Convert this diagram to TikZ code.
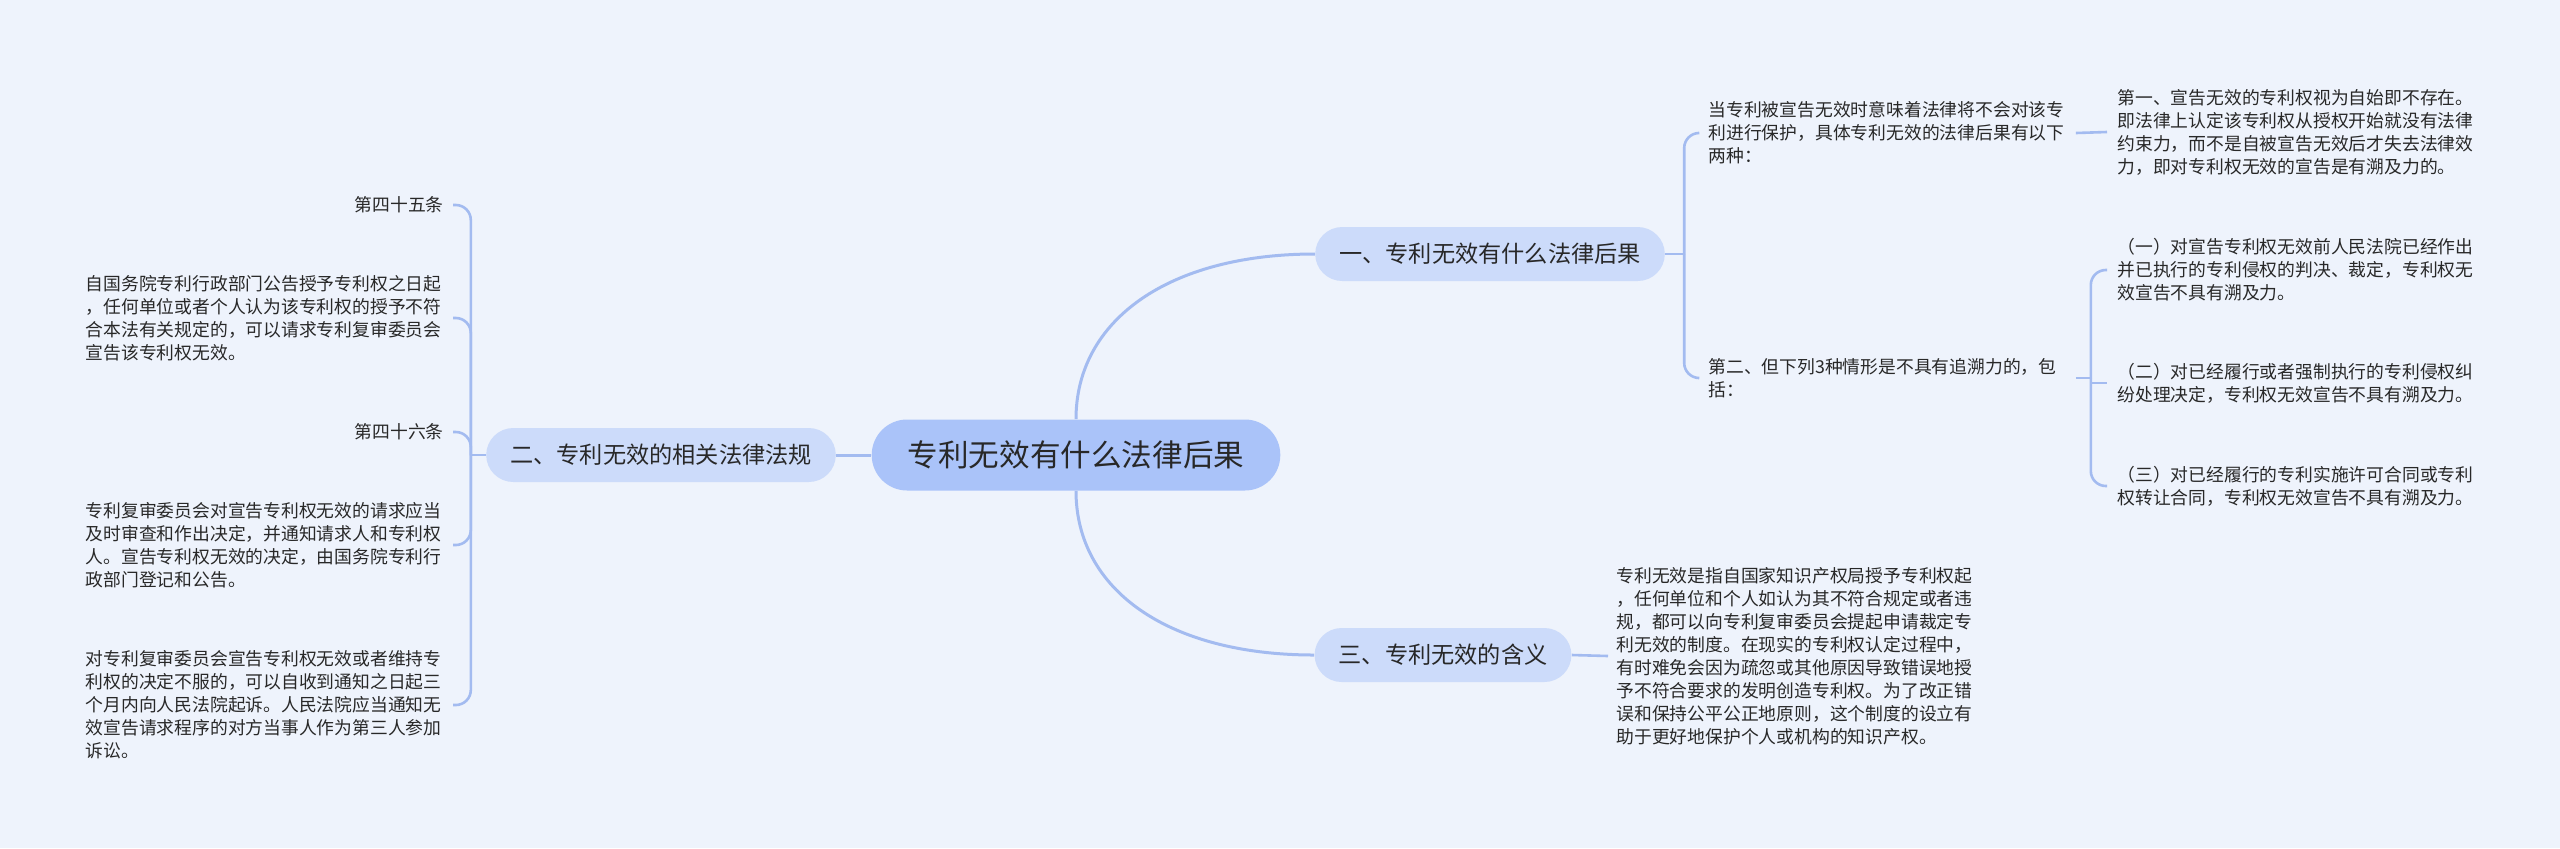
\documentclass[tikz,border=0pt]{standalone}
\usepackage{fontspec}
\newfontfamily\cjk{Noto Sans CJK SC}
\definecolor{bg}{RGB}{238,243,252}
\definecolor{rootfill}{RGB}{170,195,249}
\definecolor{branchfill}{RGB}{204,219,250}
\definecolor{linkc}{RGB}{163,187,240}
\definecolor{txt}{RGB}{40,40,40}
\begin{document}
\begin{tikzpicture}[x=0.5pt,y=-0.5pt,
  rootnode/.style={fill=rootfill,draw=none,rounded corners=17.7pt,minimum width=204pt,minimum height=35.5pt,inner xsep=18pt,font=\cjk\fontsize{15.3pt}{18pt}\selectfont,text=txt},
  branchnode/.style={fill=branchfill,draw=none,rounded corners=13.5pt,minimum height=27pt,inner xsep=12pt,font=\cjk\fontsize{11.6pt}{14pt}\selectfont,text=txt},
  leaf/.style={inner sep=0pt,text width=179pt,align=left,font=\cjk\fontsize{8.9pt}{11.5pt}\selectfont,text=txt},
  leafshort/.style={inner sep=0pt,font=\cjk\fontsize{8.9pt}{11.5pt}\selectfont,text=txt},
  mainlink/.style={draw=linkc,line width=1.5pt},
  link/.style={draw=linkc,line width=1.3pt},
  elbowlink/.style={link,rounded corners=7.5pt}
]
\fill[bg] (0,0) rectangle (2560,848);
\useasboundingbox (0,0) rectangle (2560,848);

% main nodes
\node[rootnode] (root) at (1076,455) {专利无效有什么法律后果};
\node[branchnode] (n1) at (1490,254) {一、专利无效有什么法律后果};
\node[branchnode] (n2) at (661,455) {二、专利无效的相关法律法规};
\node[branchnode] (n3) at (1443,655) {三、专利无效的含义};

% right side leaves
\node[leaf,anchor=west] (c11) at (1708,133) {当专利被宣告无效时意味着法律将不会对该专\\利进行保护，具体专利无效的法律后果有以下\\两种：};
\node[leaf,anchor=west] (c111) at (2117,132) {第一、宣告无效的专利权视为自始即不存在。\\即法律上认定该专利权从授权开始就没有法律\\约束力，而不是自被宣告无效后才失去法律效\\力，即对专利权无效的宣告是有溯及力的。};
\node[leaf,anchor=west] (c12) at (1708,378) {第二、但下列3种情形是不具有追溯力的，包\\括：};
\node[leaf,anchor=west] (c121) at (2117,270) {（一）对宣告专利权无效前人民法院已经作出\\并已执行的专利侵权的判决、裁定，专利权无\\效宣告不具有溯及力。};
\node[leaf,anchor=west] (c122) at (2117,383) {（二）对已经履行或者强制执行的专利侵权纠\\纷处理决定，专利权无效宣告不具有溯及力。};
\node[leaf,anchor=west] (c123) at (2117,486) {（三）对已经履行的专利实施许可合同或专利\\权转让合同，专利权无效宣告不具有溯及力。};
\node[leaf,anchor=west] (c31) at (1616,656) {专利无效是指自国家知识产权局授予专利权起\\，任何单位和个人如认为其不符合规定或者违\\规，都可以向专利复审委员会提起申请裁定专\\利无效的制度。在现实的专利权认定过程中，\\有时难免会因为疏忽或其他原因导致错误地授\\予不符合要求的发明创造专利权。为了改正错\\误和保持公平公正地原则，这个制度的设立有\\助于更好地保护个人或机构的知识产权。};

% left side leaves
\node[leafshort,anchor=east] (l1) at (444,205) {第四十五条};
\node[leaf,anchor=east] (l2) at (444,318) {自国务院专利行政部门公告授予专利权之日起\\，任何单位或者个人认为该专利权的授予不符\\合本法有关规定的，可以请求专利复审委员会\\宣告该专利权无效。};
\node[leafshort,anchor=east] (l3) at (444,432) {第四十六条};
\node[leaf,anchor=east] (l4) at (444,545) {专利复审委员会对宣告专利权无效的请求应当\\及时审查和作出决定，并通知请求人和专利权\\人。宣告专利权无效的决定，由国务院专利行\\政部门登记和公告。};
\node[leaf,anchor=east] (l5) at (444,705) {对专利复审委员会宣告专利权无效或者维持专\\利权的决定不服的，可以自收到通知之日起三\\个月内向人民法院起诉。人民法院应当通知无\\效宣告请求程序的对方当事人作为第三人参加\\诉讼。};

% root connectors
\draw[mainlink] (root.west) -- (n2.east);
\draw[mainlink] (root.north) .. controls +(0,-99) and +(-146,0) .. (n1.west);
\draw[mainlink] (root.south) .. controls +(0,99) and +(-146,0) .. (n3.west);

% left bracket
\draw[link] (n2.west) -- ++(-15,0) coordinate (jL);
\foreach \c in {l1,l2,l3,l4,l5}
  \draw[elbowlink] (jL) |- ([xshift=4.5pt]\c.east);

% branch 1 bracket
\draw[link] (n1.east) -- ++(19,0) coordinate (jR1);
\draw[elbowlink] (jR1) |- ([xshift=-5pt]c11.west);
\draw[elbowlink] (jR1) |- ([xshift=-5pt]c12.west);
\draw[link] ([xshift=4.5pt]c11.east) -- ([xshift=-5pt]c111.west);

% sub-bracket of c12
\draw[link] ([xshift=4.5pt]c12.east) -- ([xshift=12pt]c12.east) coordinate (jR2);
\draw[elbowlink] (jR2) |- ([xshift=-5pt]c121.west);
\draw[link] (jR2) -- (jR2 |- c122.west) -- ([xshift=-5pt]c122.west);
\draw[elbowlink] (jR2) |- ([xshift=-5pt]c123.west);

% branch 3
\draw[link] (n3.east) -- ([xshift=-4pt]c31.west);
\end{tikzpicture}
\end{document}
